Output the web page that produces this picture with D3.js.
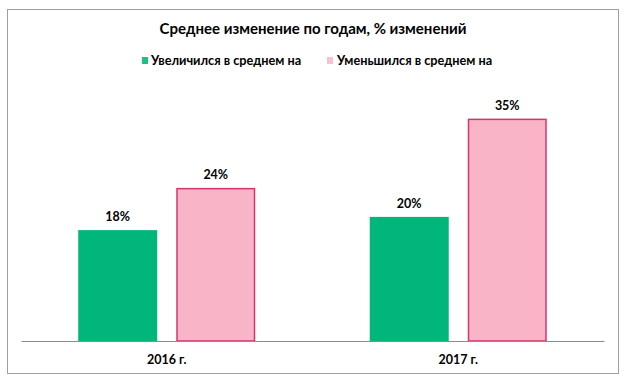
<!DOCTYPE html>
<html><head><meta charset="utf-8">
<script src="https://cdn.jsdelivr.net/npm/d3@7"></script>
<style>body{margin:0;background:#fff}svg{display:block}text{font-family:Lato,"Open Sans",sans-serif;font-weight:bold;fill:#000}</style>
</head><body><svg id="c" width="630" height="381"></svg>
<script>
const categories = ["2016 г.", "2017 г."];
const seriesNames = ["Увеличился в среднем на", "Уменьшился в среднем на"];
const increased = [17.6, 19.7];
const decreased = [24.3, 35.3];
const title = "Среднее изменение по годам, % изменений";

const svg = d3.select("#c");
svg.append("rect").attr("x",7.5).attr("y",9.5).attr("width",611).attr("height",364)
  .attr("fill","#fff").attr("stroke","#a0a0a0");

const x = d3.scaleBand().domain(categories).range([21,604]);
const xs = d3.scaleBand().domain(seriesNames).range([0,x.bandwidth()]).paddingInner(0.194).paddingOuter(0.584);
const y = d3.scaleLinear().domain([0,40]).range([341,89]);

const fills = ["#00b67a","#f9b5c7"];
const strokes = ["none","#d6336f"];
const data = [];
categories.forEach((c,i)=>{
  data.push({c, s:seriesNames[0], v:increased[i], k:0});
  data.push({c, s:seriesNames[1], v:decreased[i], k:1});
});

svg.append("text").attr("x",313).attr("y",34).attr("text-anchor","middle")
  .style("font-size","15px").text(title);

const lg = [{x:142, tx:151},{x:327, tx:337}];
seriesNames.forEach((s,i)=>{
  svg.append("rect").attr("x",lg[i].x).attr("y",57).attr("width",6).attr("height",7)
    .attr("fill", i===0 ? "#1dbf84" : "#f7c3d1");
  svg.append("text").attr("x",lg[i].tx).attr("y",65).style("font-size","12.7px").text(s);
});

svg.selectAll("rect.bar").data(data).join("rect").attr("class","bar")
  .attr("x",d=>x(d.c)+xs(d.s)+(d.k?0.75:0))
  .attr("y",d=>y(d.v)+(d.k?0.75:0))
  .attr("width",d=>xs.bandwidth()-(d.k?1.5:0))
  .attr("height",d=>y(0)-y(d.v)-(d.k?0.75:0))
  .attr("fill",d=>fills[d.k]).attr("stroke",d=>strokes[d.k]).attr("stroke-width",1.5);

svg.selectAll("text.val").data(data).join("text").attr("class","val")
  .attr("x",d=>x(d.c)+xs(d.s)+xs.bandwidth()/2).attr("y",d=>y(d.v)-9)
  .attr("text-anchor","middle").style("font-size","12.5px").text(d=>Math.round(d.v)+"%");

const ax = svg.append("g").attr("transform","translate(0,341)").call(d3.axisBottom(x).tickSize(0).tickPadding(14));
ax.select(".domain").attr("stroke","#8c8c8c");
ax.selectAll("text").style("font-size","12.5px").style("font-family","Lato, sans-serif").style("font-weight","bold").attr("fill","#000");
</script></body></html>
